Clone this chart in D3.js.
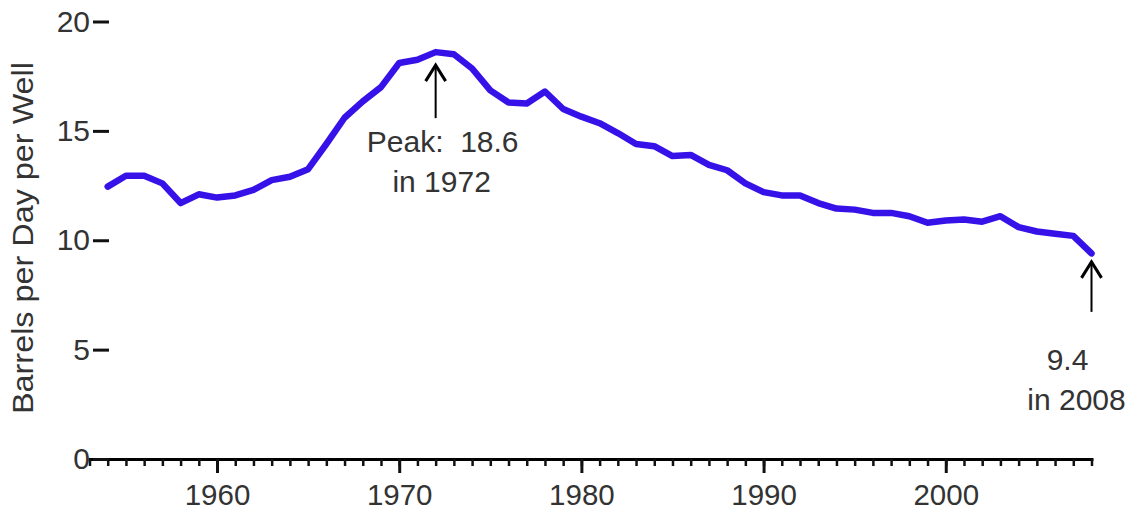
<!DOCTYPE html>
<html>
<head>
<meta charset="utf-8">
<script src="https://cdn.jsdelivr.net/npm/d3@7"></script>
<style>
  html, body { margin: 0; padding: 0; background: #fff; }
  svg { display: block; }
  text { font-family: "Liberation Sans", Arial, sans-serif; fill: #333; }
</style>
</head>
<body>
<svg id="chart" width="1135" height="512"></svg>
<script>
// Average oil output per well, barrels per day, 1954-2008
const years = d3.range(1954, 2009);
const barrelsPerWell = [
  12.45, 12.95, 12.95, 12.6, 11.7, 12.1, 11.95, 12.05, 12.3, 12.75,
  12.9, 13.25, 14.4, 15.6, 16.35, 17.0, 18.1, 18.25, 18.6, 18.5,
  17.85, 16.85, 16.3, 16.25, 16.8, 16.0, 15.65, 15.35, 14.9, 14.4,
  14.3, 13.85, 13.9, 13.45, 13.2, 12.6, 12.2, 12.05, 12.05, 11.7,
  11.45, 11.4, 11.25, 11.25, 11.1, 10.8, 10.9, 10.95, 10.85, 11.1,
  10.6, 10.4, 10.3, 10.2, 9.4
];
const yTicks = [0, 5, 10, 15, 20];
const decadeTicks = [1960, 1970, 1980, 1990, 2000];
const axisYears = d3.range(1953, 2009);
const yTitle = "Barrels per Day per Well";

const svg = d3.select("#chart");

const x = d3.scaleLinear().domain([1953, 2008]).range([89.5, 1091.5]);
const y = d3.scaleLinear().domain([0, 20]).range([459, 21.5]);

// Bottom axis: yearly minor ticks, then decade ticks with labels
const minor = svg.append("g")
  .attr("transform", `translate(0,${y(0)})`)
  .call(d3.axisBottom(x).tickValues(axisYears).tickSize(7).tickSizeOuter(0).tickFormat(""));
minor.select(".domain").attr("stroke", "#000").attr("stroke-width", 3).attr("stroke-linecap", "square");
minor.selectAll(".tick line").attr("stroke", "#111").attr("stroke-width", 2.5);

const major = svg.append("g")
  .attr("transform", `translate(0,${y(0)})`)
  .call(d3.axisBottom(x).tickValues(decadeTicks).tickSize(14).tickPadding(11).tickFormat(d3.format("d")));
major.select(".domain").remove();
major.selectAll(".tick line").attr("stroke", "#111").attr("stroke-width", 3);
major.selectAll(".tick text")
  .attr("font-size", 29.5).attr("fill", "#333")
  .attr("font-family", "Liberation Sans, Arial, sans-serif");

// Left axis: short dashes only, no spine
const left = svg.append("g")
  .attr("transform", "translate(109,0)")
  .call(d3.axisLeft(y).tickValues(yTicks).tickSize(16).tickPadding(3).tickFormat(d3.format("d")));
left.select(".domain").remove();
left.selectAll(".tick line").attr("stroke", "#111").attr("stroke-width", 3);
left.selectAll(".tick text")
  .attr("font-size", 30).attr("fill", "#333")
  .attr("font-family", "Liberation Sans, Arial, sans-serif");

// Axis title
svg.append("text")
  .attr("transform", "translate(33,238) rotate(-90)")
  .attr("text-anchor", "middle")
  .attr("font-size", 30)
  .attr("textLength", 352)
  .attr("lengthAdjust", "spacingAndGlyphs")
  .text(yTitle);

// Series line
const line = d3.line()
  .x((d, i) => x(years[i]))
  .y(d => y(d));

svg.append("path")
  .datum(barrelsPerWell)
  .attr("fill", "none")
  .attr("stroke", "#3712e8")
  .attr("stroke-width", 6.5)
  .attr("stroke-linejoin", "round")
  .attr("stroke-linecap", "round")
  .attr("d", line);

// Annotations: arrow pointing up at a data point plus two lines of text
function annotate(year, gap, stemLen, lines) {
  const i = years.indexOf(year);
  const px = x(year);
  const tip = y(barrelsPerWell[i]) + gap;
  svg.append("line")
    .attr("x1", px).attr("x2", px)
    .attr("y1", tip + 2).attr("y2", tip + stemLen)
    .attr("stroke", "#000").attr("stroke-width", 2);
  svg.append("path")
    .attr("d", `M${px - 10},${tip + 16} L${px},${tip} L${px + 10},${tip + 16}`)
    .attr("fill", "none").attr("stroke", "#000").attr("stroke-width", 3)
    .attr("stroke-linejoin", "miter");
  lines.forEach(l => {
    svg.append("text")
      .attr("x", px + l.dx)
      .attr("y", tip + l.dy)
      .attr("text-anchor", "middle")
      .attr("font-size", 30)
      .style("white-space", "pre")
      .text(l.text);
  });
}

const peakIdx = barrelsPerWell.indexOf(d3.max(barrelsPerWell));
const peakYear = years[peakIdx];
const lastYear = years[years.length - 1];
const lastVal = barrelsPerWell[barrelsPerWell.length - 1];

annotate(peakYear, 13, 53, [
  { text: "Peak:  " + barrelsPerWell[peakIdx].toFixed(1), dx: 7, dy: 87 },
  { text: "in " + peakYear, dx: 6, dy: 127 }
]);
annotate(lastYear, 8.5, 50, [
  { text: lastVal.toFixed(1), dx: -24, dy: 108 },
  { text: "in " + lastYear, dx: -15, dy: 148 }
]);
</script>
</body>
</html>
